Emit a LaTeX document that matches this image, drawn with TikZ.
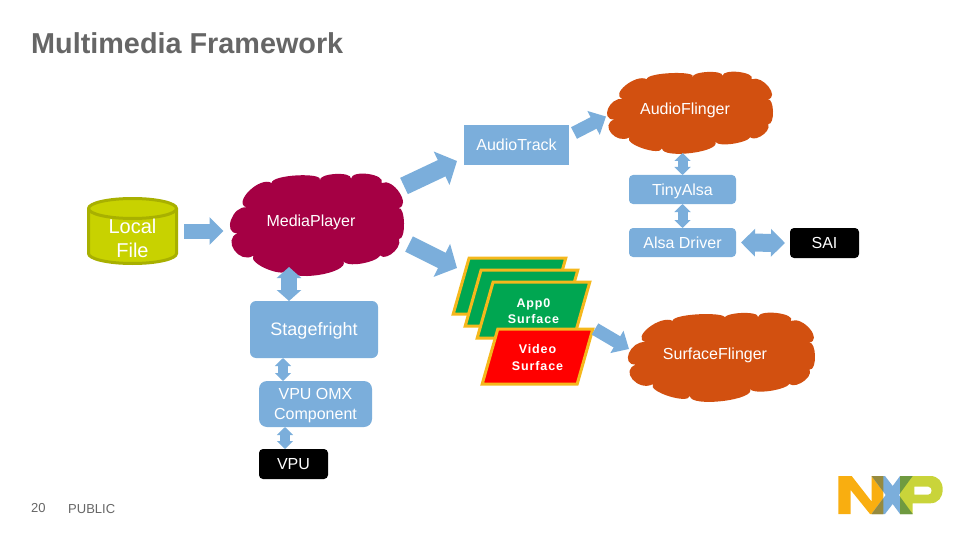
\documentclass[tikz,border=0pt]{standalone}
\usepackage{fontspec}
\setmainfont{Liberation Sans}
\newfontfamily\spaced{Liberation Sans}[LetterSpace=7]
\usetikzlibrary{arrows.meta,shapes.geometric}
\definecolor{nxpblue}{HTML}{7BAEDB}
\definecolor{txtgray}{HTML}{666666}
\definecolor{flinger}{HTML}{D25010}
\definecolor{player}{HTML}{A50044}
\definecolor{cylfill}{HTML}{C8D200}
\definecolor{cyledge}{HTML}{A8B000}
\definecolor{surfedge}{HTML}{F5B81C}
\definecolor{surfgreen}{HTML}{00A651}
\definecolor{logoorange}{HTML}{F9AE10}
\definecolor{logoolive}{HTML}{968A3E}
\definecolor{logogreen}{HTML}{C9D43A}
\definecolor{logodark}{HTML}{6F9A40}
% one bump of a cloud: from (1,2) through (3,4) to (5,6)
\newcommand{\lobe}[6]{.. controls ({#1+4/3*(#3-(#1+#5)/2)-0.06*(#5-#1)},{#2+4/3*(#4-(#2+#6)/2)-0.06*(#6-#2)}) and ({#5+4/3*(#3-(#1+#5)/2)+0.06*(#5-#1)},{#6+4/3*(#4-(#2+#6)/2)+0.06*(#6-#2)}) .. (#5,#6)}
% cloud: colour, left, top, width, height
\newcommand{\drawcloud}[5]{
	\begin{scope}[shift={(#2,#3)},x=#4/519*1pt,y=-#5/302*1pt]
		\fill[#1] (20,177) \lobe{20}{177}{0}{137}{47}{100} \lobe{47}{100}{55}{50}{122}{27} \lobe{122}{27}{200}{4}{267}{20}
			\lobe{267}{20}{312}{0}{360}{14} \lobe{360}{14}{412}{0}{452}{27} \lobe{452}{27}{505}{55}{502}{102}
			\lobe{502}{102}{519}{147}{504}{194} \lobe{504}{194}{480}{240}{444}{234} \lobe{444}{234}{405}{265}{337}{260}
			\lobe{337}{260}{262}{302}{170}{285} \lobe{170}{285}{110}{285}{67}{244} \lobe{67}{244}{10}{228}{20}{177} -- cycle;
	\end{scope}}
\begin{document}
\begin{tikzpicture}[x=1pt,y=-1pt,
	box/.style={rectangle,fill=nxpblue,text=white,align=center,inner sep=0pt,outer sep=0pt,font=\fontsize{16}{20}\selectfont},
	chip/.style={box,fill=black},
	ctext/.style={inner sep=0pt,outer sep=0pt,text=white,font=\fontsize{16}{20}\selectfont},
	foot/.style={anchor=base west,inner sep=0pt,text=txtgray,font=\fontsize{13}{15}\selectfont},
	surf/.style={trapezium,trapezium left angle=70,trapezium right angle=110,trapezium stretches=true,
		draw=surfedge,line width=3pt,inner sep=0pt,outer sep=0pt,text=white,align=center,
		font=\fontsize{12.5}{16.5}\selectfont\spaced\bfseries},
	one/.style n args={3}{draw=nxpblue,line width=#1,-{Triangle[length=#2,width=#3]}},
	two/.style n args={3}{draw=nxpblue,line width=#1,{Triangle[length=#2,width=#3]}-{Triangle[length=#2,width=#3]}},
	small/.style={two={10pt}{8pt}{16pt}}]
	\useasboundingbox (0,0) rectangle (960,540);
	%% title and footer
	\node[anchor=base west,inner sep=0pt,text=txtgray,font=\fontsize{28.8}{30}\selectfont\bfseries] (title) at (31,53.5) {Multimedia Framework};
	\node[foot] (page) at (31,512) {20};
	\node[foot] (public) at (68,513) {PUBLIC};
	%% clouds
	\drawcloud{flinger}{608}{72}{165}{81}
	\drawcloud{player}{231}{174}{173}{101}
	\drawcloud{flinger}{629}{313}{186}{88}
	\node[ctext] (af) at (685,110) {AudioFlinger};
	\node[ctext] (mp) at (311,222) {MediaPlayer};
	\node[ctext] (sf) at (715,355) {SurfaceFlinger};
	%% boxes
	\node[box,minimum width=105pt,minimum height=40pt] (at) at (516.5,145) {AudioTrack};
	\node[box,rounded corners=4pt,minimum width=107pt,minimum height=29pt,text depth=0pt] (ta) at (682.5,189.5) {TinyAlsa};
	\node[box,rounded corners=4pt,minimum width=107pt,minimum height=29pt] (ad) at (682.5,242.5) {Alsa Driver};
	\node[chip,rounded corners=4pt,minimum width=69pt,minimum height=30pt] (sai) at (824.5,243) {SAI};
	\node[box,rounded corners=6pt,minimum width=128pt,minimum height=57pt,text depth=1pt,font=\fontsize{18}{22}\selectfont] (st) at (314,329.5) {Stagefright};
	\node[box,rounded corners=8pt,minimum width=113pt,minimum height=46pt] (omx) at (315.5,404) {\rule{0pt}{14pt}VPU OMX\\Component};
	\node[chip,rounded corners=4pt,minimum width=69pt,minimum height=30pt] (vpu) at (293.5,464) {VPU};
	%% local file
	\filldraw[draw=cyledge,fill=cylfill,line width=3pt] (88.5,208.5) -- (88.5,253.5) arc[start angle=180,end angle=360,x radius=44pt,y radius=10pt]
		-- (176.5,208.5) arc[start angle=0,end angle=180,x radius=44pt,y radius=10pt] -- cycle;
	\draw[draw=cyledge,line width=3pt] (88.5,208.5) arc[start angle=180,end angle=360,x radius=44pt,y radius=10pt];
	\node[inner sep=0pt,outer sep=0pt,text=white,align=center,font=\fontsize{20}{24}\selectfont] (lf) at (132.5,238) {Local\\File};
	%% surfaces
	\node[surf,fill=surfgreen,minimum width=113pt,minimum height=56pt] (s1) at (509.5,286) {\phantom{\rule{0pt}{11pt}App0}\\\phantom{Surface}};
	\node[surf,fill=surfgreen,minimum width=113pt,minimum height=56pt] (s2) at (521.5,298) {\phantom{\rule{0pt}{11pt}App0}\\\phantom{Surface}};
	\node[surf,fill=surfgreen,minimum width=113pt,minimum height=56pt] (app) at (533.5,310) {\rule{0pt}{11pt}App0\\Surface};
	\node[surf,fill=red,minimum width=111pt,minimum height=55pt] (vid) at (537.5,356.5) {\rule{0pt}{11pt}Video\\Surface};
	%% connectors
	\draw[one={15pt}{14pt}{27pt}] ([shift={(51.5,-7)}]lf.center) -- ([shift={(-43,9)}]mp.west);
	\draw[one={18pt}{17pt}{36pt}] ([shift={(93,-36)}]mp.center) -- ([shift={(-7,-4)}]at.south west);
	\draw[one={17pt}{17pt}{36pt}] ([shift={(98,22)}]mp.center) -- ([shift={(-52.5,-18)}]s1.center);
	\draw[one={13pt}{14pt}{26pt}] ([shift={(5,8)}]at.north east) -- ([shift={(-79,6.5)}]af.center);
	\draw[one={13pt}{14pt}{25pt}] ([shift={(57.5,-27.5)}]vid.center) -- ([shift={(-86,-6)}]sf.center);
	\draw[two={16pt}{11pt}{24pt}] ([shift={(-22,45)}]mp.center) -- ([xshift=-25pt]st.north);
	\draw[small] ([xshift=-31pt]st.south) -- ([xshift=-32.5pt]omx.north);
	\draw[small] ([xshift=-30.5pt]omx.south) -- ([xshift=-8.5pt]vpu.north);
	\draw[small] ([shift={(-2.5,43)}]af.center) -- (ta.north);
	\draw[small] (ta.south) -- (ad.north);
	\draw[two={18pt}{14pt}{27pt}] ([xshift=5pt]ad.east) -- ([xshift=-5pt]sai.west);
	%% logo
	\begin{scope}[shift={(820,460)},x=1/3*1pt,y=-1/3*1pt]
		\fill[logoorange] (55,48) -- (95,48) -- (155,125) -- (155,48) -- (190,48) -- (190,162) -- (150,162) -- (92,90) -- (92,162) -- (55,162) -- cycle;
		\fill[nxpblue] (155,48) -- (195,48) -- (218,78) -- (240,48) -- (278,48) -- (237,105) -- (278,162) -- (240,162) -- (218,132) -- (195,162) -- (155,162) -- (197,105) -- cycle;
		\fill[logogreen,even odd rule] (240,48) -- (330,48) .. controls (355,48) and (368,65) .. (368,88) .. controls (368,112) and (355,130) .. (330,130) -- (278,130) -- (278,162) -- (240,162) -- (240,105) -- cycle
			(283,80) -- (325,80) .. controls (338,80) and (338,104) .. (325,104) -- (283,104) -- cycle;
		\fill[logoolive] (155,48) -- (190,48) -- (190,95) -- cycle;
		\fill[logoolive] (155,162) -- (190,162) -- (190,115) -- cycle;
		\fill[logodark] (240,48) -- (278,48) -- (240,100) -- cycle;
		\fill[logodark] (240,162) -- (278,162) -- (240,110) -- cycle;
	\end{scope}
\end{tikzpicture}
\end{document}
